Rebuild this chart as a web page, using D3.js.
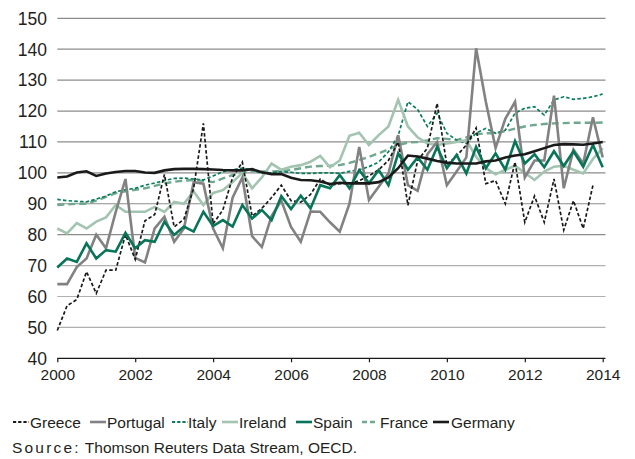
<!DOCTYPE html>
<html>
<head>
<meta charset="utf-8">
<script src="https://cdn.jsdelivr.net/npm/d3@7"></script>
<style>
  html, body { margin: 0; padding: 0; background: #fff; }
  svg { display: block; }
  text { font-family: "Liberation Sans", Arial, Helvetica, sans-serif; fill: #231f20; }
</style>
</head>
<body>
<script>
// ---- Data (quarterly, starting 2000 Q1) ----
const startYear = 2000;
const yearTicks = [2000, 2002, 2004, 2006, 2008, 2010, 2012, 2014];
const valueTicks = [40, 50, 60, 70, 80, 90, 100, 110, 120, 130, 140, 150];
const seriesNames = ["Greece", "Portugal", "Italy", "Ireland", "Spain", "France", "Germany"];

const greece = [49, 57, 59, 68, 61, 68.5, 68.5, 80, 72, 84.5, 86.5, 99.5, 82.5, 85, 95, 116, 83.5, 88, 98.5, 103.5, 86, 88.5, 92, 96, 91, 90.5, 93, 98, 96, 96.5, 96.5, 97.5, 99, 101, 104, 110, 89.5, 104, 108, 122.5, 102.5, 105.5, 109, 114.5, 96.5, 97.5, 90, 103.5, 84, 92.5, 84, 98, 81.5, 91, 82, 96];
const portugal = [64, 64, 69.5, 72.3, 80, 75.6, 87.4, 98, 72.5, 71, 82, 85.8, 77.7, 82, 97, 96.5, 82, 75.6, 92, 98.5, 79.5, 76, 86, 91, 82.5, 77.7, 87.5, 87.4, 84, 81, 90, 108.4, 91.2, 95.5, 99.8, 112.2, 96, 94.2, 106, 110, 96, 100.4, 105, 140.3, 123, 108, 117.5, 123, 98.5, 104, 104, 125, 95, 107.5, 103, 118, 105];
const italy = [91.4, 91, 90.8, 90.6, 91.5, 92.5, 93.9, 94.5, 95, 96, 96.7, 97.5, 98.2, 98.3, 98, 97.7, 99, 100.4, 101, 101.5, 101, 99.8, 100, 100.4, 100.2, 99.8, 99.8, 100, 100, 99.8, 100.5, 101, 102, 103.5, 106.8, 112, 123, 120.5, 115, 119.3, 112.8, 110.6, 109.5, 112.8, 114.4, 112.8, 113.8, 119.3, 120.9, 121.4, 118.7, 123.6, 124.6, 123.8, 124.1, 124.6, 125.5];
const ireland = [82, 80.4, 83.7, 82, 84.2, 85.6, 89.6, 87.4, 87.4, 87.4, 89, 87.4, 90.6, 90, 94, 89.6, 93.5, 94.4, 97, 100, 95, 98.5, 103, 101, 102, 102.5, 103.6, 105.5, 101.8, 104, 112, 113, 109, 112.2, 115, 123.6, 115, 111.5, 109.5, 109, 109.5, 110, 110.6, 105.2, 101.5, 99.5, 101, 102.3, 100, 97.7, 100.4, 102, 102.3, 101, 99.8, 104.5, 108];
const spain = [69.4, 72.3, 71.2, 77.2, 72.3, 75, 74.5, 80.6, 75.6, 78.2, 77.7, 84.2, 79.9, 82.6, 81, 87.4, 82.8, 84.7, 82.6, 89.6, 85.2, 88, 84.7, 92.5, 88.3, 92.6, 88.5, 96, 95, 99.3, 95, 100.9, 96.6, 100.9, 96, 106.3, 101, 105, 101, 108.4, 101.5, 105.8, 99.8, 108.4, 101.5, 106.3, 101, 110.3, 103, 106, 101.8, 107, 102.2, 107, 102, 109, 101.8];
const france = [89.6, 89.8, 90, 90, 91, 92.2, 93.4, 94, 94.5, 95, 95.8, 96.6, 97.1, 97.5, 97.7, 97.4, 97, 98.2, 99.3, 100, 100.7, 100.5, 100.4, 100.6, 100.9, 101.5, 102, 102.2, 102.3, 102.5, 103.2, 104.1, 105.2, 106.3, 107.6, 109, 109.8, 110, 110.5, 111.2, 111, 110.6, 111.5, 112.5, 112.8, 112.8, 113.5, 114.3, 115, 115.5, 115.8, 116, 116.1, 116.2, 116.2, 116.2, 116.3];
const germany = [98.5, 98.8, 100.1, 100.5, 99, 99.8, 100.3, 100.6, 100.6, 100.1, 100, 100.8, 101.2, 101.3, 101.3, 101.2, 101.1, 100.9, 100.8, 100.8, 101.2, 100.2, 99.6, 99.6, 98.4, 97.7, 97.6, 97.2, 96.4, 96.8, 96.6, 96.6, 96.6, 97, 98.5, 101.5, 105.6, 105.3, 104.6, 103.8, 103.3, 103, 103, 103, 103.7, 104, 105, 105.6, 106, 107, 108, 109, 109.3, 109.2, 109.1, 109.5, 110];

const seriesValues = [greece, portugal, italy, ireland, spain, france, germany];

// ---- Styles ----
const styles = {
  Greece:   { color: "#1a1a1a", width: 1.7, dash: "3.5,2.2" },
  Portugal: { color: "#828282", width: 2.6, dash: null },
  Italy:    { color: "#0b7d5c", width: 1.7, dash: "3.5,2.2" },
  Ireland:  { color: "#a2c4b0", width: 2.6, dash: null },
  Spain:    { color: "#087558", width: 2.6, dash: null },
  France:   { color: "#6fa88e", width: 2.4, dash: "7,4" },
  Germany:  { color: "#1a1a1a", width: 2.6, dash: null }
};
const drawOrder = ["France", "Italy", "Ireland", "Portugal", "Greece", "Spain", "Germany"];

const W = 635, H = 459;
const svg = d3.select("body").append("svg").attr("width", W).attr("height", H);

const x = d3.scaleLinear().domain([2000, 2014]).range([57.3, 602.7]);
const y = d3.scaleLinear().domain([40, 150]).range([358.3, 18.3]);

// gridlines
svg.append("g").selectAll("line")
  .data(valueTicks.filter(v => v > 40))
  .join("line")
  .attr("x1", x(2000)).attr("x2", 605.5)
  .attr("y1", d => y(d)).attr("y2", d => y(d))
  .attr("stroke", d => d >= 80 ? "#8c8c8c" : "#b0b0b0")
  .attr("stroke-width", 1.2);

// y labels
svg.append("g").selectAll("text")
  .data(valueTicks)
  .join("text")
  .attr("x", 47).attr("y", d => y(d))
  .attr("dy", "0.36em")
  .attr("text-anchor", "end")
  .style("font-size", "17.5px")
  .text(d => d);

// x axis
const xAxis = d3.axisBottom(x).tickValues(yearTicks).tickFormat(d3.format("d")).tickSize(4).tickSizeOuter(0);
const gx = svg.append("g").attr("transform", `translate(0,${y(40)})`).call(xAxis);
gx.select(".domain").attr("stroke", "#1a1a1a").attr("stroke-width", 1.3).attr("d", `M${x(2000)},0H605.5`);
gx.selectAll(".tick line").attr("stroke", "#1a1a1a").attr("stroke-width", 1.2);
gx.selectAll(".tick text")
  .attr("y", 11).attr("dy", "0.71em")
  .style("font-size", "15.5px")
  .style("font-family", "'Liberation Sans', Arial, sans-serif")
  .attr("fill", "#231f20");

// lines
const line = d3.line()
  .x((d, i) => x(startYear + i / 4))
  .y(d => y(d));

const plot = svg.append("g");
drawOrder.forEach(name => {
  const idx = seriesNames.indexOf(name);
  const st = styles[name];
  plot.append("path")
    .datum(seriesValues[idx])
    .attr("fill", "none")
    .attr("stroke", st.color)
    .attr("stroke-width", st.width)
    .attr("stroke-linejoin", "miter")
    .attr("stroke-dasharray", st.dash)
    .attr("d", line);
});

// legend
const legendX = [13, 90, 172, 222, 296, 362, 433];
const legend = svg.append("g");
seriesNames.forEach((name, i) => {
  const st = styles[name];
  const g = legend.append("g").attr("transform", `translate(${legendX[i]},422)`);
  g.append("line")
    .attr("x1", 0).attr("x2", 16)
    .attr("y1", 0).attr("y2", 0)
    .attr("stroke", st.color)
    .attr("stroke-width", name === "Greece" || name === "Italy" ? 2 : 2.6)
    .attr("stroke-dasharray", name === "Greece" || name === "Italy" ? "3.2,2" : (name === "France" ? "5,3" : null));
  g.append("text")
    .attr("x", name === "Italy" ? 16 : (name === "France" || name === "Germany" ? 18 : 17))
    .attr("y", 0).attr("dy", "0.36em")
    .style("font-size", "15.5px")
    .text(name);
});

// source
const src = svg.append("text").attr("x", 12).attr("y", 453).style("font-size", "15.5px");
src.append("tspan").style("letter-spacing", "2.2px").text("Source:");
src.append("tspan").text(" Thomson Reuters Data Stream, OECD.");
</script>
</body>
</html>
